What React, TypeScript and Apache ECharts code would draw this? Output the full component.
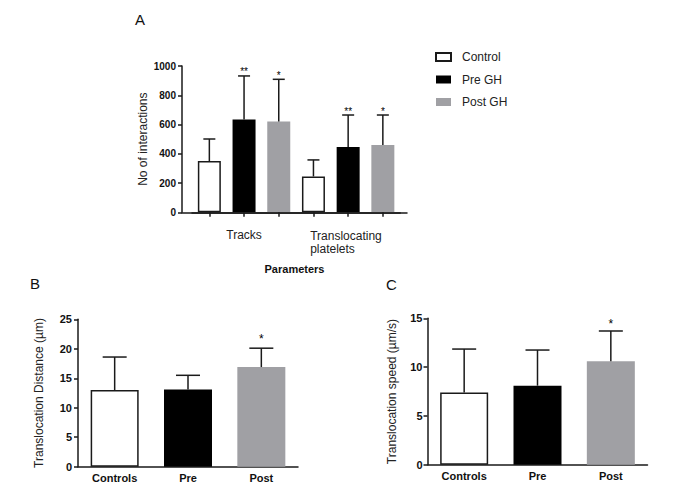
import React, { useEffect, useRef } from 'react';
import * as echarts from 'echarts';

// ---------- Data ----------
const groupsA = ['Tracks', 'Translocating\nplatelets'];
const seriesNamesA = ['Control', 'Pre GH', 'Post GH'];
const controlA = [350, 245];
const preGHA = [635, 447];
const postGHA = [620, 460];
const controlSdA = [151, 113];
const preGHSdA = [297, 218];
const postGHSdA = [289, 205];
const controlStarsA = ['', ''];
const preGHStarsA = ['**', '**'];
const postGHStarsA = ['*', '*'];
const yTicksA = [0, 200, 400, 600, 800, 1000];

const categoriesB = ['Controls', 'Pre', 'Post'];
const valuesB = [13.0, 13.1, 16.9];
const sdB = [5.6, 2.4, 3.2];
const starsB = ['', '', '*'];
const yTicksB = [0, 5, 10, 15, 20, 25];

const categoriesC = ['Controls', 'Pre', 'Post'];
const valuesC = [7.4, 8.1, 10.6];
const sdC = [4.45, 3.65, 3.1];
const starsC = ['', '', '*'];
const yTicksC = [0, 5, 10, 15];

// ---------- Styles ----------
const FONT = '"Liberation Sans", Arial, Helvetica, sans-serif';
const INK = '#1a1a1a';
const barStyles = [
  { color: '#ffffff', borderColor: INK, borderWidth: 1.5 },
  { color: '#000000', borderColor: '#000000', borderWidth: 0 },
  { color: '#a0a0a4', borderColor: '#a0a0a4', borderWidth: 0 },
];

function errRender(stars: string[], capHalf: number, starOffset: number, starSize: number) {
  return (params: any, api: any) => {
    const x = api.value(0);
    const m = api.value(1);
    const u = api.value(2);
    const p0 = api.coord([x, m]);
    const p1 = api.coord([x, u]);
    const st = { stroke: INK, lineWidth: 1.5 };
    const children: any[] = [
      { type: 'line', shape: { x1: p0[0], y1: p0[1], x2: p1[0], y2: p1[1] }, style: st },
      { type: 'line', shape: { x1: p1[0] - capHalf, y1: p1[1], x2: p1[0] + capHalf, y2: p1[1] }, style: st },
    ];
    const s = stars[params.dataIndex];
    if (s) {
      children.push({
        type: 'text',
        style: {
          text: s,
          x: p1[0],
          y: p1[1] - starOffset,
          fill: '#000000',
          stroke: 'none',
          fontSize: starSize,
          fontFamily: FONT,
          align: 'center',
          verticalAlign: 'middle',
        },
      });
    }
    return { type: 'group', children };
  };
}

export default function App() {
  const ref = useRef<HTMLDivElement>(null);

  useEffect(() => {
    if (!ref.current) return;
    const chart = echarts.init(ref.current, undefined, { renderer: 'svg' });

    const meansA = [controlA, preGHA, postGHA];
    const sdsA = [controlSdA, preGHSdA, postGHSdA];
    const starsA = [controlStarsA, preGHStarsA, postGHStarsA];
    const catsA: string[] = [];
    groupsA.forEach((g) => seriesNamesA.forEach((s) => catsA.push(s + '|' + g)));

    const barSeriesA = seriesNamesA.map((name, si) => ({
      name,
      type: 'bar',
      xAxisIndex: 1,
      yAxisIndex: 1,
      barWidth: 23,
      barGap: '-100%',
      itemStyle: barStyles[si],
      data: catsA.map((_, ci) => (ci % 3 === si ? meansA[si][Math.floor(ci / 3)] : '-')),
      z: 2,
    }));

    const errDataA: number[][] = [];
    const errStarsA: string[] = [];
    groupsA.forEach((_, gi) => {
      seriesNamesA.forEach((__, si) => {
        errDataA.push([gi * 3 + si, meansA[si][gi], meansA[si][gi] + sdsA[si][gi]]);
        errStarsA.push(starsA[si][gi]);
      });
    });

    const errDataB = valuesB.map((v, i) => [i, v, v + sdB[i]]);
    const errDataC = valuesC.map((v, i) => [i, v, v + sdC[i]]);

    const axisLineStyle = { color: INK, width: 1.5 };
    const tickLabel = (size: number) => ({
      fontSize: size,
      fontWeight: 'bold' as const,
      color: '#111',
      fontFamily: FONT,
      formatter: (v: any) => String(v),
    });
    const yName = { fontSize: 12, color: '#222', fontFamily: FONT };

    const option: any = {
      animation: false,
      backgroundColor: '#ffffff',
      textStyle: { fontFamily: FONT },
      graphic: [
        { type: 'text', x: 135, y: 19, style: { text: 'A', fontSize: 15, fontFamily: FONT, fill: '#111', verticalAlign: 'middle' } },
        { type: 'text', x: 30, y: 283, style: { text: 'B', fontSize: 15, fontFamily: FONT, fill: '#111', verticalAlign: 'middle' } },
        { type: 'text', x: 386, y: 284, style: { text: 'C', fontSize: 15, fontFamily: FONT, fill: '#111', verticalAlign: 'middle' } },
      ],
      legend: {
        data: seriesNamesA,
        orient: 'vertical',
        left: 430,
        top: 46,
        itemWidth: 15,
        itemHeight: 8,
        itemGap: 10.5,
        icon: 'rect',
        selectedMode: false,
        textStyle: { fontSize: 12, color: '#222', fontFamily: FONT, padding: [0, 0, 0, 6] },
      },
      grid: [
        { left: 182, top: 66, width: 225, height: 146.3 },
        { left: 192, top: 66, width: 208.2, height: 146.3 },
        { left: 78, top: 319.3, width: 220, height: 147.4 },
        { left: 427.5, top: 318.3, width: 220, height: 146.5 },
      ],
      xAxis: [
        {
          gridIndex: 0,
          type: 'value',
          min: 0,
          max: 1,
          axisLine: { show: true, lineStyle: axisLineStyle },
          axisTick: { show: false },
          axisLabel: { show: false },
          splitLine: { show: false },
          name: 'Parameters',
          nameLocation: 'middle',
          nameGap: 51,
          nameTextStyle: { fontSize: 11, fontWeight: 'bold', color: '#111', fontFamily: FONT },
        },
        {
          gridIndex: 1,
          type: 'category',
          data: catsA,
          axisLine: { show: true, onZero: false, lineStyle: axisLineStyle },
          axisTick: { show: true, alignWithLabel: true, interval: 0, inside: false, length: 4.5, lineStyle: { color: INK, width: 1.5 } },
          axisLabel: {
            interval: 0,
            margin: 17,
            fontSize: 12,
            color: '#222',
            fontFamily: FONT,
            formatter: (v: string, i: number) => {
              if (i % 3 !== 1) return '';
              const label = groupsA[Math.floor(i / 3)];
              const lines = label.split('\n');
              if (lines.length === 1) return label;
              return lines.map((l) => '{a|' + l + '}').join('\n');
            },
            rich: { a: { width: 76, align: 'left', fontSize: 12, lineHeight: 13, color: '#222', fontFamily: FONT } },
          },
          splitLine: { show: false },
          z: 20,
        },
        {
          gridIndex: 2,
          type: 'category',
          data: categoriesB,
          axisLine: { show: true, lineStyle: axisLineStyle },
          axisTick: { show: false },
          axisLabel: { ...tickLabel(11), margin: 6 },
        },
        {
          gridIndex: 3,
          type: 'category',
          data: categoriesC,
          axisLine: { show: true, lineStyle: axisLineStyle },
          axisTick: { show: false },
          axisLabel: { ...tickLabel(11), margin: 6 },
        },
      ],
      yAxis: [
        {
          gridIndex: 0,
          type: 'value',
          min: yTicksA[0],
          max: yTicksA[yTicksA.length - 1],
          interval: yTicksA[1] - yTicksA[0],
          axisLine: { show: true, lineStyle: axisLineStyle },
          axisTick: { show: true, length: 4, lineStyle: axisLineStyle },
          axisLabel: { ...tickLabel(10), margin: 6 },
          splitLine: { show: false },
          name: 'No of interactions',
          nameLocation: 'middle',
          nameRotate: 90,
          nameGap: 33,
          nameTextStyle: yName,
        },
        {
          gridIndex: 1,
          type: 'value',
          min: yTicksA[0],
          max: yTicksA[yTicksA.length - 1],
          axisLine: { show: false },
          axisTick: { show: false },
          axisLabel: { show: false },
          splitLine: { show: false },
        },
        {
          gridIndex: 2,
          type: 'value',
          min: yTicksB[0],
          max: yTicksB[yTicksB.length - 1],
          interval: yTicksB[1] - yTicksB[0],
          axisLine: { show: true, lineStyle: axisLineStyle },
          axisTick: { show: true, length: 4, lineStyle: axisLineStyle },
          axisLabel: { ...tickLabel(11), margin: 6 },
          splitLine: { show: false },
          name: 'Translocation Distance (\u00b5m)',
          nameLocation: 'middle',
          nameRotate: 90,
          nameGap: 33,
          nameTextStyle: yName,
        },
        {
          gridIndex: 3,
          type: 'value',
          min: yTicksC[0],
          max: yTicksC[yTicksC.length - 1],
          interval: yTicksC[1] - yTicksC[0],
          axisLine: { show: true, lineStyle: axisLineStyle },
          axisTick: { show: true, length: 4, lineStyle: axisLineStyle },
          axisLabel: { ...tickLabel(11), margin: 5 },
          splitLine: { show: false },
          name: 'Translocation speed (\u00b5m/s)',
          nameLocation: 'middle',
          nameRotate: 90,
          nameGap: 30,
          nameTextStyle: yName,
        },
      ],
      series: [
        ...barSeriesA,
        {
          name: 'errA',
          type: 'custom',
          xAxisIndex: 1,
          yAxisIndex: 1,
          renderItem: errRender(errStarsA, 6, 4, 10),
          encode: { x: 0, y: [1, 2] },
          data: errDataA,
          z: 3,
        },
        {
          name: 'B',
          type: 'bar',
          xAxisIndex: 2,
          yAxisIndex: 2,
          barWidth: 48,
          data: valuesB.map((v, i) => ({ value: v, itemStyle: barStyles[i] })),
          z: 2,
        },
        {
          name: 'errB',
          type: 'custom',
          xAxisIndex: 2,
          yAxisIndex: 2,
          renderItem: errRender(starsB, 12, 9, 12),
          encode: { x: 0, y: [1, 2] },
          data: errDataB,
          z: 3,
        },
        {
          name: 'C',
          type: 'bar',
          xAxisIndex: 3,
          yAxisIndex: 3,
          barWidth: 48,
          data: valuesC.map((v, i) => ({ value: v, itemStyle: barStyles[i] })),
          z: 2,
        },
        {
          name: 'errC',
          type: 'custom',
          xAxisIndex: 3,
          yAxisIndex: 3,
          renderItem: errRender(starsC, 12, 6.5, 12),
          encode: { x: 0, y: [1, 2] },
          data: errDataC,
          z: 3,
        },
      ],
    };

    chart.setOption(option);
    return () => chart.dispose();
  }, []);

  return (
    <div
      ref={ref}
      style={{ position: 'fixed', left: 0, top: 0, width: 685, height: 495, background: '#ffffff' }}
    />
  );
}
